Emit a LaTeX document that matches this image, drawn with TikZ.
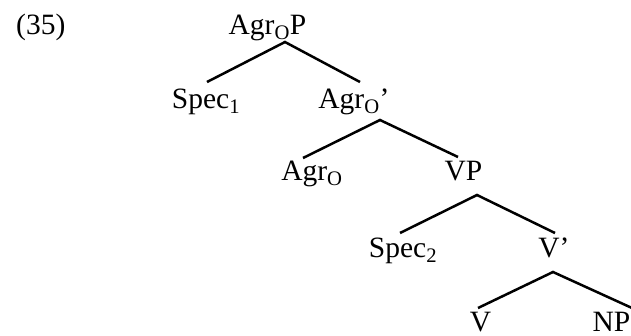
\documentclass[tikz,border=0pt]{standalone}
\usepackage{fontspec}
\setmainfont{Liberation Serif}
\usetikzlibrary{calc}

\begin{document}
\begin{tikzpicture}[x=1pt, y=-1pt, line width=2.5pt,
  every node/.style={font=\fontsize{29.5}{34}\selectfont, inner sep=0pt, anchor=base}]
\useasboundingbox (0,0) rectangle (631,335);
% Example 35
\node[anchor=base west] (ex35) at (15,34) {(35)};
\node (agrop) at (267.5,34) {Agr\textsubscript{O}P};
\node (spec1) at (206,108) {Spec\textsubscript{1}};
\node (agrobar) at (354,108) {Agr\textsubscript{O}'};
\node (agro) at (312,180) {Agr\textsubscript{O}};
\node (vp) at (463.5,180) {VP};
\node (spec2) at (403,257) {Spec\textsubscript{2}};
\node (vbar) at (554,257) {V'};
\node (v) at (480.5,331) {V};
\node (np) at (611.5,331) {NP};
\draw ($(spec1.base)+(1,-26)$) -- ($(agrop.base)+(17.5,8)$) -- ($(agrobar.base)+(6,-26)$);
\draw ($(agro.base)+(-9,-22)$) -- ($(agrobar.base)+(26,12)$) -- ($(vp.base)+(-5.5,-23)$);
\draw ($(spec2.base)+(-3,-24)$) -- ($(vp.base)+(13.5,15)$) -- ($(vbar.base)+(1,-24)$);
\draw ($(v.base)+(-2.5,-23)$) -- ($(vbar.base)+(-1,15)$) -- ($(np.base)+(20.5,-23)$);
\end{tikzpicture}
\end{document}
